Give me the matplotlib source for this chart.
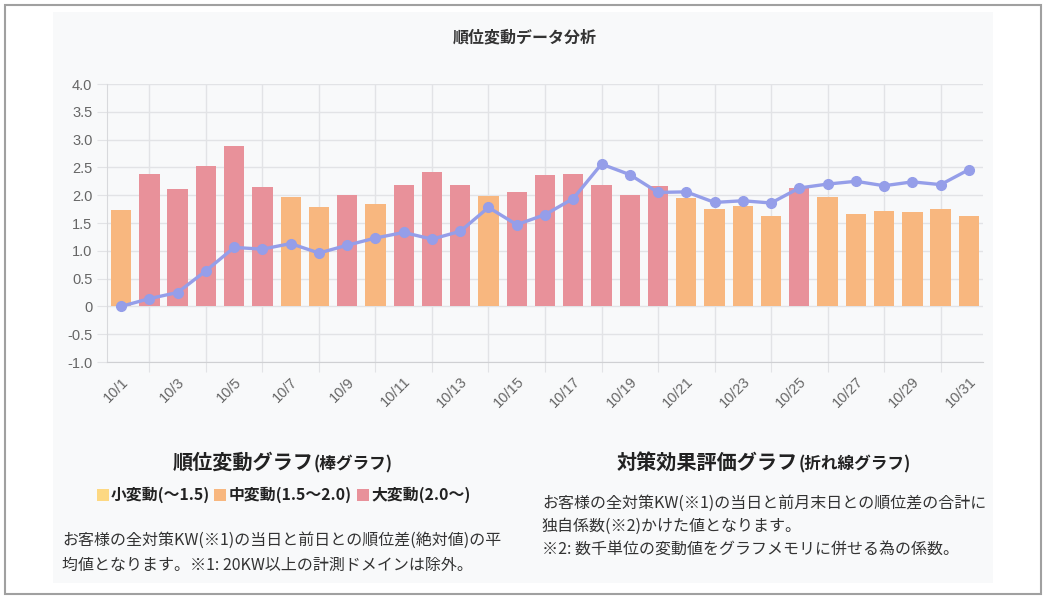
import numpy as np
import matplotlib
matplotlib.use("Agg")
import matplotlib.pyplot as plt
from matplotlib.patches import Rectangle

# ---- data ----
days = [f"10/{d}" for d in range(1, 32)]
bar_values = [1.73, 2.38, 2.11, 2.52, 2.88, 2.14, 1.96, 1.78, 2.01, 1.85,
              2.19, 2.41, 2.19, 1.98, 2.06, 2.37, 2.38, 2.19, 2.01, 2.16,
              1.95, 1.75, 1.81, 1.63, 2.13, 1.96, 1.66, 1.71, 1.69, 1.75, 1.63]
line_values = [0.00, 0.14, 0.25, 0.64, 1.06, 1.03, 1.13, 0.96, 1.10, 1.23,
               1.33, 1.21, 1.35, 1.78, 1.47, 1.65, 1.94, 2.56, 2.37, 2.05,
               2.06, 1.87, 1.90, 1.86, 2.13, 2.20, 2.25, 2.17, 2.24, 2.19, 2.46]
y_ticks = [-1.0, -0.5, 0.0, 0.5, 1.0, 1.5, 2.0, 2.5, 3.0, 3.5, 4.0]
y_tick_labels = ["-1.0", "-0.5", "0", "0.5", "1.0", "1.5", "2.0", "2.5", "3.0", "3.5", "4.0"]

title = "順位変動データ分析"
legend_labels = ["小変動(〜1.5)", "中変動(1.5〜2.0)", "大変動(2.0〜)"]
left_heading = ("順位変動グラフ", "(棒グラフ)")
right_heading = ("対策効果評価グラフ", "(折れ線グラフ)")
left_body = ["お客様の全対策KW(※1)の当日と前日との順位差(絶対値)の平",
             "均値となります。※1: 20KW以上の計測ドメインは除外。"]
right_body = ["お客様の全対策KW(※1)の当日と前月末日との順位差の合計に",
              "独自係数(※2)かけた値となります。",
              "※2: 数千単位の変動値をグラフメモリに併せる為の係数。"]

# ---- style ----
C_SMALL = "#fdd882"
C_MID = "#f8b77f"
C_BIG = "#e8919a"
C_LINE = "#959ee9"
GRID = "#e2e3e6"
CJK = ["Noto Sans CJK JP", "DejaVu Sans"]

W, H = 1051, 601
def fx(px): return px / W
def fy(py): return 1 - py / H

fig = plt.figure(figsize=(W / 100, H / 100), dpi=100)
fig.patch.set_facecolor("white")
fig.patches.append(Rectangle((fx(53), fy(583)), (993 - 53) / W, (583 - 12) / H,
                             transform=fig.transFigure, facecolor="#f8f9fa",
                             edgecolor="none", zorder=-10))
fig.patches.append(Rectangle((fx(5), fy(594)), (1041 - 5) / W, (594 - 5) / H,
                             transform=fig.transFigure, facecolor="none",
                             edgecolor="#a0a0a0", lw=1.5, zorder=-9))

ax = fig.add_axes([fx(107), fy(362), (983 - 107) / W, (362 - 84) / H])
ax.set_facecolor("none")

x = np.arange(len(days))
colors = [C_SMALL if v < 1.5 else (C_MID if v < 2.0 else C_BIG) for v in bar_values]
ax.bar(x, bar_values, width=0.72, color=colors, zorder=2)
ax.plot(x, line_values, color=C_LINE, lw=2.4, marker="o", ms=7, zorder=3)

ax.set_xlim(-0.5, len(days) - 0.5)
ax.set_ylim(-1, 4)
ax.set_yticks(y_ticks, y_tick_labels)
ax.set_xticks(x[1::2])
ax.set_xticklabels([])
ax.set_xticks(x[0::2], [days[i] for i in x[0::2]], minor=True)
ax.tick_params(axis="x", which="minor", length=0, pad=9, labelsize=10.5,
               labelcolor="#666666", labelrotation=45)
for lbl in ax.get_xticklabels(minor=True):
    lbl.set_ha("right")
    lbl.set_rotation_mode("anchor")
    lbl.set_fontfamily("Liberation Sans")
ax.tick_params(axis="x", which="major", length=7.5, color=GRID)
ax.tick_params(axis="y", length=7.5, color=GRID, pad=3, labelsize=10.5,
               labelcolor="#666666")
for lbl in ax.get_yticklabels():
    lbl.set_fontfamily("Liberation Sans")
ax.grid(True, which="major", color=GRID, lw=1, zorder=0)
ax.set_axisbelow(True)
for s in ["top", "right"]:
    ax.spines[s].set_visible(False)
ax.spines["left"].set_color("#d8d9dc")
ax.spines["bottom"].set_color("#cfd0d3")

# ---- texts ----
fig.text(fx(525), fy(37), title, ha="center", va="center", fontsize=11.5,
         fontweight="bold", color="#333333", family=CJK)

def heading(x0, yb, parts):
    t1 = fig.text(fx(x0), fy(yb), parts[0], ha="left", va="baseline",
                  fontsize=14.5, fontweight="bold", color="#222222", family=CJK)
    ax.annotate(parts[1], xy=(1, 0), xycoords=t1, ha="left", va="bottom",
                fontsize=12, fontweight="bold", color="#222222", family=CJK,
                annotation_clip=False)

heading(173, 469, left_heading)
heading(617, 469, right_heading)

sq_x = [97, 214, 357]
txt_x = [111, 229, 371]
for sx, tx, lab, c in zip(sq_x, txt_x, legend_labels, [C_SMALL, C_MID, C_BIG]):
    fig.patches.append(Rectangle((fx(sx), fy(501)), 12 / W, 12 / H,
                                 transform=fig.transFigure, facecolor=c,
                                 edgecolor="none"))
    fig.text(fx(tx), fy(495), lab, ha="left", va="center", fontsize=11.4,
             fontweight="bold", color="#222222", family=CJK)

for i, line in enumerate(left_body):
    fig.text(fx(62), fy(540 + 25 * i), line, ha="left", va="center",
             fontsize=11.5, color="#333333", family=CJK)
for i, line in enumerate(right_body):
    fig.text(fx(542), fy(503 + 23.5 * i), line, ha="left", va="center",
             fontsize=11.5, color="#333333", family=CJK)

fig.savefig("out.png", dpi=100)
